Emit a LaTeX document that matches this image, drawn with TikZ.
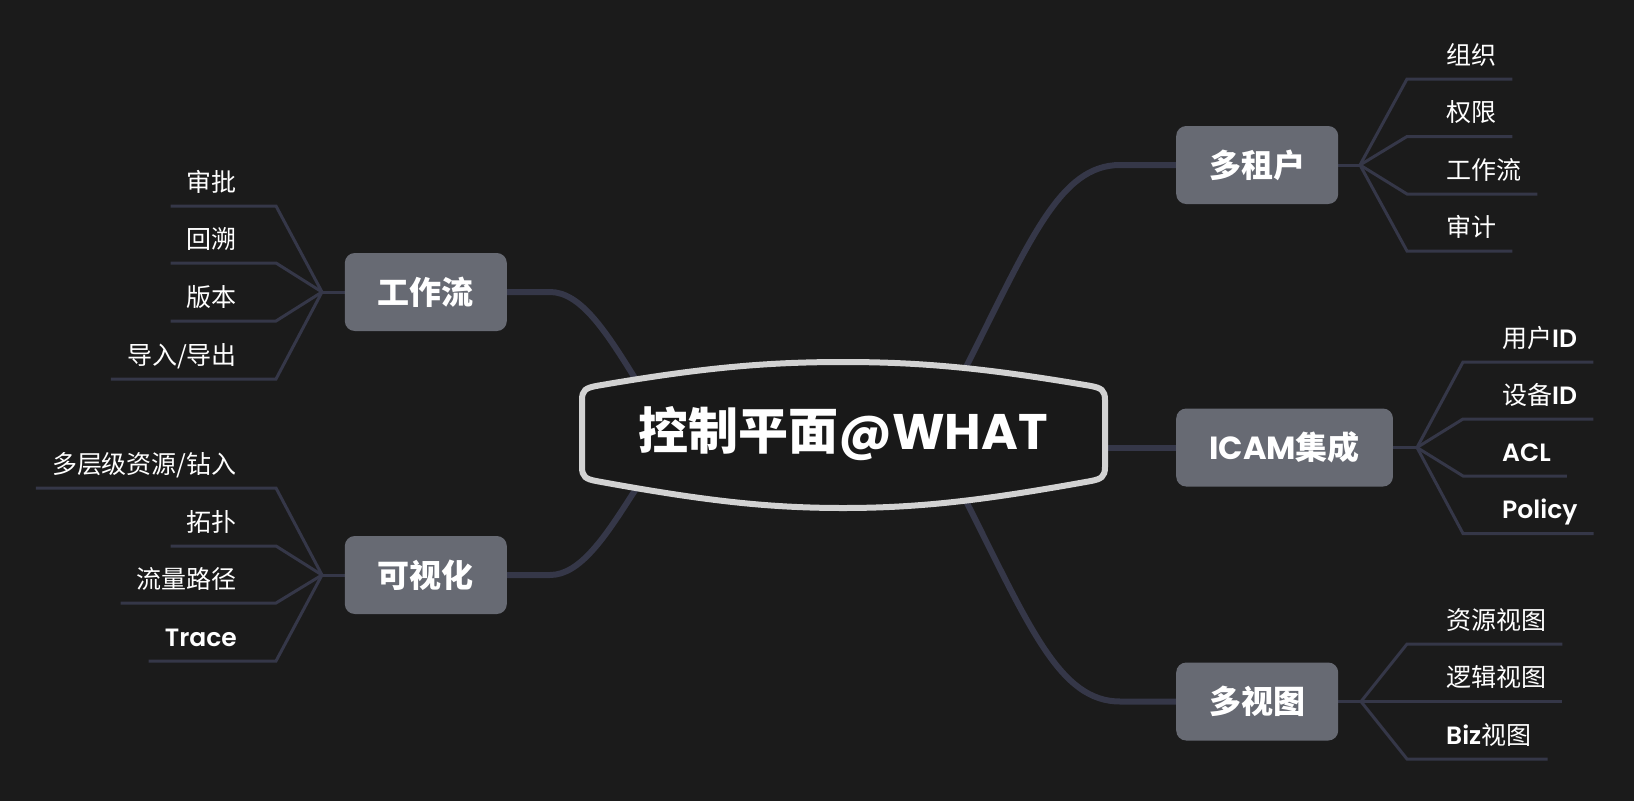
\documentclass[tikz,border=0pt]{standalone}
\usepackage{fontspec}
\setmainfont{Noto Sans CJK SC}
\newfontfamily\lat{Poppins}
\newfontfamily\latm{Poppins SemiBold}
\usetikzlibrary{backgrounds}
\definecolor{bg}{HTML}{1B1B1B}
\definecolor{boxc}{HTML}{676A73}
\definecolor{linec}{HTML}{353748}
\definecolor{rim}{HTML}{D2D2D2}
\definecolor{cfill}{HTML}{191919}
\begin{document}
\begin{tikzpicture}[x=1pt,y=-1pt,
  branch/.style={fill=boxc, rounded corners=10pt, text=white,
    font=\fontsize{32pt}{36pt}\selectfont\bfseries,
    minimum height=78pt, inner xsep=33pt, inner ysep=0pt},
  leafR/.style={anchor=south west, text=white,
    font=\fontsize{25pt}{29pt}\selectfont,
    inner xsep=16pt, inner ysep=0pt, text height=20pt, text depth=14.5pt},
  leafL/.style={leafR, anchor=south east},
  trunk/.style={draw=linec, line width=6pt},
  twig/.style={draw=linec, line width=3pt},
]
\useasboundingbox (0,0) rectangle (1634,801);

% central topic
\node[text=white, font=\fontsize{50pt}{56pt}\selectfont\bfseries, inner sep=0pt]
  (ctr) at (843,434) {控制平面{\lat @WHAT}};

% branches
\node[branch, anchor=west] (b1) at (1176,165) {多租户};
\node[branch, anchor=west] (b2) at (1176,447.5) {{\lat ICAM}集成};
\node[branch, anchor=west] (b3) at (1176,701.5) {多视图};
\node[branch, anchor=east] (b4) at (507,292) {工作流};
\node[branch, anchor=east] (b5) at (507,575) {可视化};

% fork points
\coordinate (f1) at (1360,165);
\coordinate (f2) at (1417,447.5);
\coordinate (f3) at (1361,701.5);
\coordinate (f4) at (322,292);
\coordinate (f5) at (322,575);

% leaves of 多租户
\node[leafR] (l11) at (1430,79) {组织};
\node[leafR] (l12) at (1430,136.5) {权限};
\node[leafR] (l13) at (1430,194) {工作流};
\node[leafR] (l14) at (1430,251) {审计};
% leaves of ICAM
\node[leafR] (l21) at (1486,362) {用户{\latm ID}};
\node[leafR] (l22) at (1486,419) {设备{\latm ID}};
\node[leafR] (l23) at (1486,476) {{\latm ACL}};
\node[leafR] (l24) at (1486,533.5) {{\latm Policy}};
% leaves of 多视图
\node[leafR] (l31) at (1430,644) {资源视图};
\node[leafR] (l32) at (1430,701.5) {逻辑视图};
\node[leafR] (l33) at (1430,759) {{\latm Biz}视图};
% leaves of 工作流
\node[leafL] (l41) at (253,206) {审批};
\node[leafL] (l42) at (253,263) {回溯};
\node[leafL] (l43) at (253,321) {版本};
\node[leafL] (l44) at (253,379) {导入/导出};
% leaves of 可视化
\node[leafL] (l51) at (253,488) {多层级资源/钻入};
\node[leafL] (l52) at (253,546) {拓扑};
\node[leafL] (l53) at (253,603) {流量路径};
\node[leafL] (l54) at (253,661) {{\latm Trace}};

% connector ends inside the central topic
\coordinate (cTR) at (961,377);
\coordinate (cR)  at (1095,447.5);
\coordinate (cBR) at (961,491);
\coordinate (cTL) at (641,387);
\coordinate (cBL) at (640,483);

\begin{scope}[on background layer]
  \fill[bg] (0,0) rectangle (1634,801);
  % trunks
  \draw[trunk] (cTR) -- (967,365) .. controls (1030,240) and (1060,165) .. (1120,165) -- (b1.west);
  \draw[trunk] (cR) -- (b2.west);
  \draw[trunk] (cBR) -- (967,503) .. controls (1030,628) and (1060,701.5) .. (1120,701.5) -- (b3.west);
  \draw[trunk] (b4.east) -- (550,292) .. controls (580,292) and (605,330) .. (633,375) -- (cTL);
  \draw[trunk] (b5.east) -- (550,575) .. controls (580,575) and (605,537) .. (632,495) -- (cBL);
  % twigs
  \draw[twig] (b1.east) -- (f1);
  \draw[twig] (b2.east) -- (f2);
  \draw[twig] (b3.east) -- (f3);
  \draw[twig] (b4.west) -- (f4);
  \draw[twig] (b5.west) -- (f5);
  \foreach \l in {l11,l12,l13,l14}
    \draw[twig] (f1) -- ([xshift=-23pt]\l.south west) -- (\l.south east);
  \foreach \l in {l21,l22,l23,l24}
    \draw[twig] (f2) -- ([xshift=-23pt]\l.south west) -- (\l.south east);
  \foreach \l in {l31,l32,l33}
    \draw[twig] (f3) -- ([xshift=-23pt]\l.south west) -- (\l.south east);
  \foreach \l in {l41,l42,l43,l44}
    \draw[twig] (f4) -- ([xshift=23pt]\l.south east) -- (\l.south west);
  \foreach \l in {l51,l52,l53,l54}
    \draw[twig] (f5) -- ([xshift=23pt]\l.south east) -- (\l.south west);
  % central frame
  \filldraw[fill=cfill, draw=rim, line width=6pt]
    (582,400) -- (582,467)
    .. controls (582,477) and (586,479) .. (596,481)
    .. controls (700,500) and (765,508) .. (843,508)
    .. controls (921,508) and (986,500) .. (1091,481)
    .. controls (1101,479) and (1105,477) .. (1105,467)
    -- (1105,400)
    .. controls (1105,390) and (1101,388) .. (1091,386)
    .. controls (986,368) and (921,362) .. (843,362)
    .. controls (765,362) and (700,368) .. (596,386)
    .. controls (586,388) and (582,390) .. (582,400) -- cycle;
\end{scope}
\end{tikzpicture}
\end{document}
